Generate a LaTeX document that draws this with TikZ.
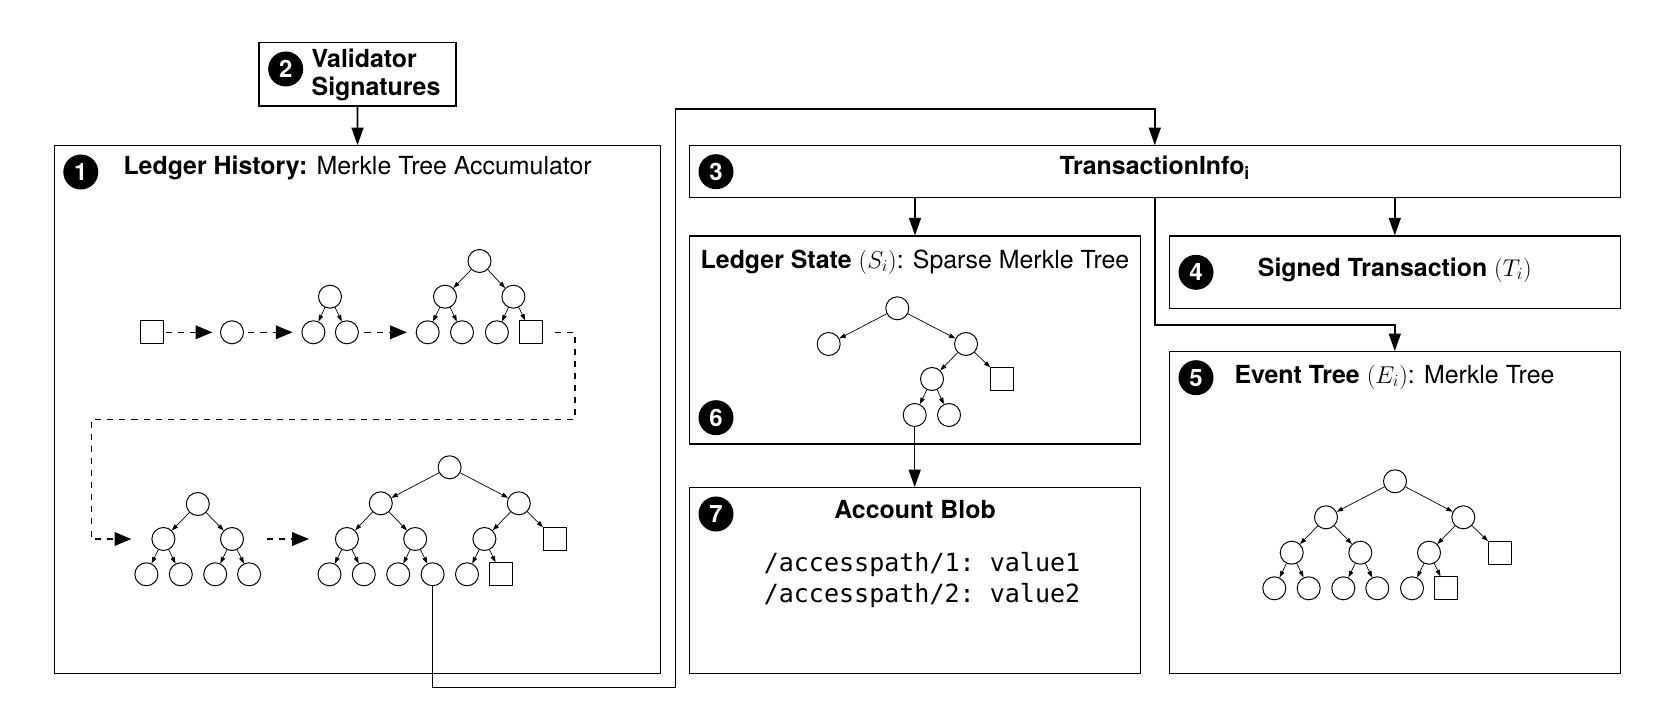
\documentclass[tikz,border=0pt]{standalone}
\usepackage{fontspec}
\setmainfont{TeX Gyre Heros}
\setmonofont{DejaVu Sans Mono}
\usetikzlibrary{arrows.meta,positioning,calc,fit}

\begin{document}
\begin{tikzpicture}[
  x=0.025cm,y=-0.025cm,
  font=\fontsize{17.7}{21}\selectfont,
  box/.style={draw,line width=0.8pt,inner sep=0pt},
  badge/.style={circle,fill=black,text=white,inner sep=0pt,minimum size=0.875cm,font=\fontsize{17}{20}\selectfont\bfseries},
  hnode/.style={draw,circle,line width=0.7pt,inner sep=0pt,minimum size=0.575cm},
  snode/.style={draw,line width=0.7pt,inner sep=0pt,minimum size=0.575cm},
  tedge/.style={-{Triangle[length=0.16cm,width=0.11cm]},line width=0.5pt},
  arrow/.style={-{Triangle[length=0.44cm,width=0.3cm]},line width=1.1pt},
  dasharrow/.style={-{Triangle[length=0.42cm,width=0.34cm]},line width=1pt,dash pattern=on 4.3pt off 4.3pt}
]
\fill[white] (0,0) rectangle (1666,709);
\useasboundingbox (0,0) rectangle (1666,709);

\node[box,fit={(259,42.3) (456,106)}] (val) {};
\node[badge] (n2) at (285.7,69) {2};
\node[right=0.08cm of n2,yshift=-0.15cm,align=left,font=\fontsize{17.7}{20}\selectfont\bfseries] (valt) {Validator\\Signatures};

\node[box,fit={(54.5,145.7) (660.7,673.3)}] (hist) {};
\node[badge] (n1) at (80.8,172) {1};
\node (histt) at (357.6,168) {\textbf{Ledger History:} Merkle Tree Accumulator};

\node[box,fit={(689.3,145.7) (1620.3,197.7)}] (info) {};
\node[badge] (n3) at (716,171.7) {3};
\node (infot) at (1154.8,168) {\textbf{TransactionInfo\textsubscript{i}}};

\node[box,fit={(689.3,236) (1140.7,444)}] (state) {};
\node[badge] (n6) at (716,417.7) {6};
\node (statet) at (915,262) {\textbf{Ledger State} $(S_i)$: Sparse Merkle Tree};

\node[box,fit={(689.3,487.7) (1140.7,673.3)}] (blob) {};
\node[badge] (n7) at (716,514) {7};
\node (blobt) at (915,510) {\textbf{Account Blob}};
\node[align=left,font=\fontsize{17.8}{22}\selectfont\ttfamily] (code) at (922,580) {/accesspath/1: value1\\/accesspath/2: value2};

\node[box,fit={(1169.3,236) (1620.3,308.3)}] (signed) {};
\node[badge] (n4) at (1196,272.3) {4};
\node (signedt) at (1394.8,270) {\textbf{Signed Transaction} $(T_i)$};

\node[box,fit={(1169.3,351.7) (1620.3,673.3)}] (events) {};
\node[badge] (n5) at (1196,377.7) {5};
\node (eventst) at (1394.5,377) {\textbf{Event Tree} $(E_i)$: Merkle Tree};

\node[snode] (q0) at (152.2,332.3) {};
\node[hnode] (c0) at (232,332.3) {};
\node[hnode] (a) at (330,296.7) {};
\node[hnode] (a1) at (313.4,332.3) {};
\node[hnode] (a2) at (346.9,332.3) {};
\node[hnode] (b) at (479.5,261) {};
\node[hnode] (b1) at (445,296.7) {};
\node[hnode] (b2) at (513.4,296.7) {};
\node[hnode] (b11) at (427.7,332.3) {};
\node[hnode] (b12) at (462,332.3) {};
\node[hnode] (b21) at (496.9,332.3) {};
\node[snode] (b22) at (531.3,332.3) {};

\node[hnode] (c) at (197.8,504) {};
\node[hnode] (c1) at (163.4,539) {};
\node[hnode] (c2) at (232,539) {};
\node[hnode] (c11) at (146.4,574.3) {};
\node[hnode] (c12) at (180.8,574.3) {};
\node[hnode] (c21) at (215.2,574.3) {};
\node[hnode] (c22) at (249.1,574.3) {};

\node[hnode] (d) at (449.6,467.3) {};
\node[hnode] (d1) at (380.8,503.3) {};
\node[hnode] (d2) at (518.8,503.3) {};
\node[hnode] (d11) at (346.9,539) {};
\node[hnode] (d12) at (415.2,539) {};
\node[hnode] (d21) at (484.4,539) {};
\node[snode] (d22) at (555,539) {};
\node[hnode] (d111) at (329.5,574.3) {};
\node[hnode] (d112) at (363.8,574.3) {};
\node[hnode] (d121) at (398.2,574.3) {};
\node[hnode] (d122) at (432.6,574.3) {};
\node[hnode] (d211) at (467,574.3) {};
\node[snode] (d212) at (501.3,574.3) {};

\node[hnode] (s) at (897.3,308.3) {};
\node[hnode] (s1) at (828.7,344) {};
\node[hnode] (s2) at (966,344) {};
\node[hnode] (s21) at (932,379) {};
\node[snode] (s22) at (1002.3,379) {};
\node[hnode] (s211) at (914.7,415) {};
\node[hnode] (s212) at (949,415) {};

\node[hnode] (e) at (1395,481.3) {};
\node[hnode] (e1) at (1326,517.3) {};
\node[hnode] (e2) at (1463.3,517.3) {};
\node[hnode] (e11) at (1291.7,552.7) {};
\node[hnode] (e12) at (1360.3,552.7) {};
\node[hnode] (e21) at (1429,552.7) {};
\node[snode] (e22) at (1500,552.7) {};
\node[hnode] (e111) at (1274.3,588.3) {};
\node[hnode] (e112) at (1308.7,588.3) {};
\node[hnode] (e121) at (1343.3,588.3) {};
\node[hnode] (e122) at (1377.3,588.3) {};
\node[hnode] (e211) at (1412,588.3) {};
\node[snode] (e212) at (1446.3,588.3) {};

\coordinate (k1) at (675.4,687.7);
\coordinate (k2) at (675.4,109);
\coordinate (k3) at (1300,325);
\coordinate (k4) at (575,332.3);
\coordinate (k5) at (575,419.3);
\coordinate (k6) at (91.5,419.3);
\coordinate (k7) at (91.5,539);

\draw[tedge] (a) edge (a1) edge (a2);
\draw[tedge] (b) edge (b1) edge (b2);
\draw[tedge] (b1) edge (b11) edge (b12);
\draw[tedge] (b2) edge (b21) edge (b22);
\draw[tedge] (c) edge (c1) edge (c2);
\draw[tedge] (c1) edge (c11) edge (c12);
\draw[tedge] (c2) edge (c21) edge (c22);
\draw[tedge] (d) edge (d1) edge (d2);
\draw[tedge] (d1) edge (d11) edge (d12);
\draw[tedge] (d2) edge (d21) edge (d22);
\draw[tedge] (d11) edge (d111) edge (d112);
\draw[tedge] (d12) edge (d121) edge (d122);
\draw[tedge] (d21) edge (d211) edge (d212);
\draw[tedge] (s) edge (s1) edge (s2);
\draw[tedge] (s2) edge (s21) edge (s22);
\draw[tedge] (s21) edge (s211) edge (s212);
\draw[tedge] (e) edge (e1) edge (e2);
\draw[tedge] (e1) edge (e11) edge (e12);
\draw[tedge] (e2) edge (e21) edge (e22);
\draw[tedge] (e11) edge (e111) edge (e112);
\draw[tedge] (e12) edge (e121) edge (e122);
\draw[tedge] (e21) edge (e211) edge (e212);

\draw[dasharrow,shorten <=0.04cm,shorten >=0.19cm] (q0) -- (c0);
\draw[dasharrow,shorten <=0.11cm,shorten >=0.22cm] (c0) -- (a1);
\draw[dasharrow,shorten <=0.14cm,shorten >=0.22cm] (a2) -- (b11);
\draw[dasharrow,shorten <=0.3cm,shorten >=0.5cm] (b22) -- (k4) -- (k5) -- (k6) -- (k7) -- (c1);
\draw[dasharrow,shorten <=0.57cm,shorten >=0.65cm] (c2) -- (d11);

\draw[arrow] (val) -- (hist);
\draw[arrow] (d122) |- (k1) -- (k2) -| (info);
\draw[arrow] (info.south -| state.north) -- (state.north);
\draw[arrow] (info.south -| signed.north) -- (signed.north);
\draw[arrow] (info.south) |- (k3) -| (events.north);
\draw[arrow] (s211) -- (s211 |- blob.north);
\end{tikzpicture}
\end{document}
